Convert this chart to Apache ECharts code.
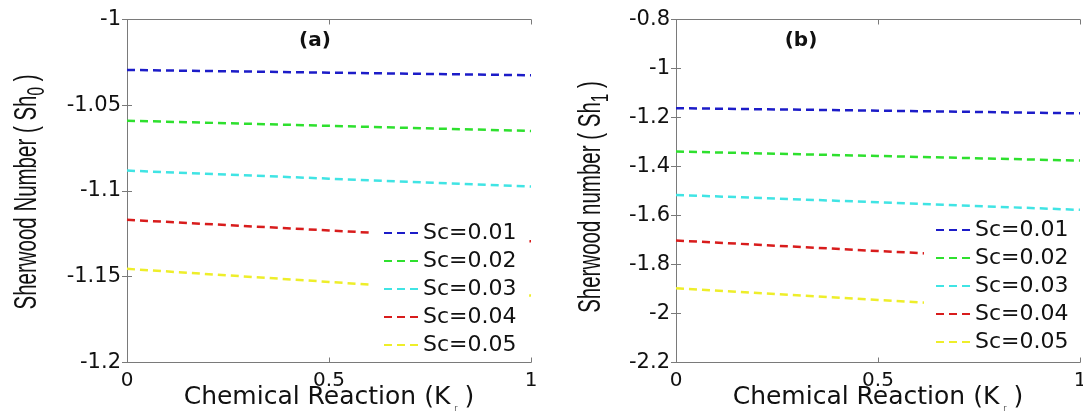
<!DOCTYPE html>
<html>
<head>
<meta charset="utf-8">
<script src="https://cdn.jsdelivr.net/npm/echarts@6/dist/echarts.min.js"></script>
<style>
  html, body { margin: 0; padding: 0; background: #fff; }
  #chart { width: 1083px; height: 412px; }
</style>
</head>
<body>
<div id="chart"></div>
<script>
// Chemical reaction parameter K_r (x axis of both panels)
const kValues = [0, 0.5, 1];
const scLabels = ['Sc=0.01', 'Sc=0.02', 'Sc=0.03', 'Sc=0.04', 'Sc=0.05'];

// Panel (a): Sherwood number Sh0
const sh0Sc01 = [-1.0294, -1.0310, -1.0325];
const sh0Sc02 = [-1.0590, -1.0620, -1.0650];
const sh0Sc03 = [-1.0881, -1.0928, -1.0974];
const sh0Sc04 = [-1.1168, -1.1230, -1.1293];
const sh0Sc05 = [-1.1454, -1.1530, -1.1610];

// Panel (b): Sherwood number Sh1
const sh1Sc01 = [-1.162, -1.172, -1.183];
const sh1Sc02 = [-1.339, -1.357, -1.376];
const sh1Sc03 = [-1.516, -1.546, -1.577];
const sh1Sc04 = [-1.702, -1.745, -1.786];
const sh1Sc05 = [-1.897, -1.945, -1.993];

// Tick values
const kTicks = [0, 0.5, 1];
const sh0Ticks = [-1.2, -1.15, -1.1, -1.05, -1];
const sh1Ticks = [-2.2, -2, -1.8, -1.6, -1.4, -1.2, -1, -0.8];

const lineColors = ['#1c1cc8', '#2ee02e', '#40e4e4', '#d81c1c', '#eeee2a'];
const boxColor = '#7a7a7a';
const textFont = 'DejaVu Sans';

const fmt = v => String(+(+v).toFixed(2));

function panelAxes(gridIndex, ticks, xName) {
  const step = +(ticks[1] - ticks[0]).toFixed(4);
  const kStep = +(kTicks[1] - kTicks[0]).toFixed(4);
  const line = { show: true, lineStyle: { color: boxColor, width: 1 } };
  const tick = { show: true, inside: true, length: 5, lineStyle: { color: boxColor } };
  const xAxes = [
    {
      gridIndex, type: 'value', position: 'bottom',
      min: kTicks[0], max: kTicks[kTicks.length - 1], interval: kStep,
      axisLine: line, axisTick: tick, splitLine: { show: false },
      axisLabel: { formatter: fmt, margin: 8, fontFamily: textFont, fontSize: 20, color: '#111' },
      name: '{m|' + xName + '}{s|r}{m|)}',
      nameLocation: 'middle', nameGap: 20, nameMoveOverlap: false,
      nameTextStyle: {
        verticalAlign: 'top',
        rich: {
          m: { fontFamily: textFont, fontSize: 25, color: '#111', lineHeight: 30 },
          s: { fontFamily: textFont, fontSize: 8, color: '#555', lineHeight: 30, verticalAlign: 'bottom', padding: [0, 7, 0, 4] }
        }
      }
    },
    {
      gridIndex, type: 'value', position: 'top',
      min: kTicks[0], max: kTicks[kTicks.length - 1], interval: kStep,
      axisLine: line, axisTick: tick, axisLabel: { show: false }, splitLine: { show: false }
    }
  ];
  const yAxes = [
    {
      gridIndex, type: 'value', position: 'left',
      min: ticks[0], max: ticks[ticks.length - 1], interval: step,
      axisLine: line, axisTick: tick, splitLine: { show: false },
      axisLabel: { formatter: fmt, margin: 6, padding: [5, 0, 0, 0], fontFamily: textFont, fontSize: 21, color: '#111' }
    },
    {
      gridIndex, type: 'value', position: 'right',
      min: ticks[0], max: ticks[ticks.length - 1], interval: step,
      axisLine: line, axisTick: tick, axisLabel: { show: false }, splitLine: { show: false }
    }
  ];
  return { xAxes, yAxes };
}

function panelSeries(gridIndex, arrays) {
  return arrays.map((vals, i) => ({
    type: 'line',
    name: scLabels[i],
    xAxisIndex: gridIndex * 2,
    yAxisIndex: gridIndex * 2,
    data: kValues.map((k, j) => [k, vals[j]]),
    symbol: 'none',
    silent: true,
    lineStyle: { color: lineColors[i], width: 2.5, type: [8, 5] },
    itemStyle: { color: lineColors[i] },
    z: 2
  }));
}

function panelLegend(left, top) {
  return {
    data: scLabels,
    orient: 'vertical',
    left, top,
    itemWidth: 34, itemHeight: 14, itemGap: 6,
    padding: [4, 12, 4, 11],
    backgroundColor: '#ffffff',
    selectedMode: false,
    itemStyle: { opacity: 0 },
    textStyle: { fontFamily: textFont, fontSize: 22, color: '#111', lineHeight: 22 }
  };
}

// Rotated, condensed y-axis title with a subscript
function yTitle(x, y, main, sub) {
  return {
    type: 'text', x, y,
    rotation: Math.PI / 2,
    scaleX: 0.64, scaleY: 1,
    silent: true,
    style: {
      text: '{m|' + main + '}{s|' + sub + '}{m| )}',
      align: 'center', verticalAlign: 'middle',
      rich: {
        m: { fontFamily: 'Liberation Sans', fontSize: 32, fill: '#111', lineHeight: 44 },
        s: { fontFamily: 'Liberation Sans', fontSize: 24, fill: '#111', lineHeight: 44, verticalAlign: 'bottom' }
      }
    }
  };
}

function panelTag(x, y, text) {
  return {
    type: 'text', x, y, silent: true,
    style: { text, align: 'center', verticalAlign: 'middle', fontFamily: textFont, fontSize: 20, fontWeight: 'bold', fill: '#111' }
  };
}

const a = panelAxes(0, sh0Ticks, 'Chemical Reaction (K');
const b = panelAxes(1, sh1Ticks, 'Chemical Reaction (K');

const option = {
  animation: false,
  backgroundColor: '#ffffff',
  grid: [
    { left: 127, top: 19.5, width: 404, height: 343, outerBoundsMode: 'none', containLabel: false },
    { left: 676, top: 19.5, width: 404, height: 343, outerBoundsMode: 'none', containLabel: false }
  ],
  xAxis: [...a.xAxes, ...b.xAxes],
  yAxis: [...a.yAxes, ...b.yAxes],
  legend: [panelLegend(372, 218), panelLegend(924, 215)],
  series: [
    ...panelSeries(0, [sh0Sc01, sh0Sc02, sh0Sc03, sh0Sc04, sh0Sc05]),
    ...panelSeries(1, [sh1Sc01, sh1Sc02, sh1Sc03, sh1Sc04, sh1Sc05])
  ],
  graphic: [
    yTitle(27, 192, 'Sherwood Number ( Sh', '0'),
    yTitle(591, 197, 'Sherwood number ( Sh', '1'),
    panelTag(315, 41, '(a)'),
    panelTag(801, 41, '(b)')
  ]
};

const chart = echarts.init(document.getElementById('chart'), null, { renderer: 'canvas' });
chart.setOption(option);
</script>
</body>
</html>
